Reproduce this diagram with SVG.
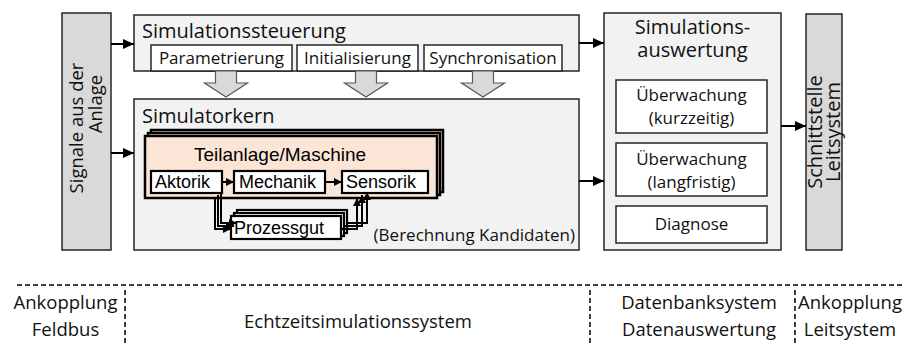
<svg xmlns="http://www.w3.org/2000/svg" width="911" height="345" viewBox="0 0 911 345">
<defs>
<marker id="ah" markerUnits="userSpaceOnUse" markerWidth="12" markerHeight="10" refX="11" refY="5" orient="auto"><path d="M0,0 L11,5 L0,10 z" fill="#000"/></marker>
<marker id="ahs" markerUnits="userSpaceOnUse" markerWidth="8" markerHeight="8" refX="8" refY="4" orient="auto"><path d="M0,0 L8,4 L0,8 z" fill="#000"/></marker>
</defs>
<style>
.panel{fill:#f2f2f2;stroke:#262626;stroke-width:1.5}
.gray{fill:#d9d9d9;stroke:#262626;stroke-width:1.5}
.sub{fill:#fff;stroke:#262626;stroke-width:1.5}
.blk{fill:#d9d9d9;stroke:#595959;stroke-width:1.2}
.peach{fill:#fbe5d6;stroke:#000;stroke-width:2.5}
.wb{fill:#fff;stroke:#000;stroke-width:2.2}
.t{font-family:"Open Sans","Liberation Sans",sans-serif;fill:#111}
.a{font-family:"Liberation Sans",Arial,sans-serif;fill:#000}
.ttl{font-size:20px}
.s17{font-size:17px}
.s18{font-size:18.5px}
.c{text-anchor:middle}
.con{fill:none;stroke:#000;stroke-width:2}
.dash{fill:none;stroke:#000;stroke-width:1.5;stroke-dasharray:5 3}
</style>

<g id="signale">
<rect class="gray" x="62" y="13" width="49" height="237"/>
<text class="t s18 c" transform="translate(86,128) rotate(-90)"><tspan x="0" y="-3">Signale aus der</tspan><tspan x="24" y="16">Anlage</tspan></text>
</g>

<g id="simulationssteuerung">
<rect class="panel" x="134" y="15" width="445" height="56"/>
<text class="t ttl" x="142" y="38">Simulationssteuerung</text>
<rect class="sub" x="151" y="45" width="141" height="26"/>
<text class="t s17 c" x="221.5" y="64">Parametrierung</text>
<rect class="sub" x="297" y="45" width="121" height="26"/>
<text class="t s17 c" x="357.5" y="64">Initialisierung</text>
<rect class="sub" x="424" y="45" width="138" height="26"/>
<text class="t s17 c" x="493" y="64">Synchronisation</text>
</g>

<g id="blockpfeile">
<polygon class="blk" points="215.5,71 236.5,71 236.5,83 247.5,83 226,97 204.5,83 215.5,83"/>
<polygon class="blk" points="355.5,71 376.5,71 376.5,83 387.5,83 366,97 344.5,83 355.5,83"/>
<polygon class="blk" points="472.5,71 493.5,71 493.5,83 504.5,83 483,97 461.5,83 472.5,83"/>
</g>

<g id="simulatorkern">
<rect class="panel" x="134" y="99" width="445" height="151"/>
<text class="t ttl" x="142" y="123">Simulatorkern</text>
<text class="t s17" x="575" y="241" text-anchor="end">(Berechnung Kandidaten)</text>
</g>

<g id="teilanlage">
<rect class="peach" x="151" y="130" width="292" height="62"/>
<rect class="peach" x="148" y="133" width="292" height="62"/>
<rect class="peach" x="145" y="136" width="292" height="62"/>
<text class="a c" x="280" y="161" font-size="19">Teilanlage/Maschine</text>
</g>

<g id="aktorik">
<rect class="wb" x="151" y="171" width="71" height="22"/>
<text class="a" x="155" y="188" font-size="18">Aktorik</text>
</g>
<g id="mechanik">
<rect class="wb" x="234" y="171" width="91" height="22"/>
<text class="a" x="239" y="188" font-size="18">Mechanik</text>
</g>
<g id="sensorik">
<rect class="wb" x="342" y="171" width="86" height="22"/>
<text class="a" x="346" y="188" font-size="18">Sensorik</text>
</g>

<g id="prozessgut">
<rect class="wb" x="237" y="210" width="110" height="23"/>
<rect class="wb" x="234" y="213" width="110" height="23"/>
<rect class="wb" x="231" y="216" width="110" height="23"/>
<text class="a" x="234" y="234" font-size="18">Prozessgut</text>
</g>

<g id="simulationsauswertung">
<rect class="panel" x="604" y="13" width="177" height="237"/>
<text class="t ttl c" x="692.5" y="34">Simulations-</text>
<text class="t ttl c" x="692.5" y="57">auswertung</text>
<rect class="sub" x="616" y="80" width="151" height="53"/>
<text class="t s17 c" x="691.5" y="101">Überwachung</text>
<text class="t s17 c" x="691.5" y="124">(kurzzeitig)</text>
<rect class="sub" x="616" y="143" width="151" height="53"/>
<text class="t s17 c" x="691.5" y="165">Überwachung</text>
<text class="t s17 c" x="691.5" y="188">(langfristig)</text>
<rect class="sub" x="616" y="206" width="151" height="37"/>
<text class="t s17 c" x="691.5" y="230">Diagnose</text>
</g>

<g id="schnittstelle">
<rect class="gray" x="806" y="14" width="36" height="236"/>
<text class="t c" font-size="20" transform="translate(824,132) rotate(-90)"><tspan x="0" y="-2">Schnittstelle</tspan><tspan x="0" y="16">Leitsystem</tspan></text>
</g>

<g id="connectors">
<line class="con" x1="111" y1="44" x2="134" y2="44" marker-end="url(#ah)"/>
<line class="con" x1="111" y1="153" x2="134" y2="153" marker-end="url(#ah)"/>
<line class="con" x1="579" y1="43" x2="604" y2="43" marker-end="url(#ah)"/>
<line class="con" x1="579" y1="181" x2="604" y2="181" marker-end="url(#ah)"/>
<line class="con" x1="781" y1="126" x2="806" y2="126" marker-end="url(#ah)"/>
<line class="con" x1="222" y1="182" x2="234" y2="182" marker-end="url(#ahs)"/>
<line class="con" x1="325" y1="182" x2="342" y2="182" marker-end="url(#ahs)"/>
<path class="con" d="M221,192 V223 H237" marker-end="url(#ahs)"/>
<path class="con" d="M218,195 V226 H234" marker-end="url(#ahs)"/>
<path class="con" d="M215,198 V229 H231" marker-end="url(#ahs)"/>
<path class="con" d="M347,223 H367 V192" marker-end="url(#ahs)"/>
<path class="con" d="M344,226 H362 V195" marker-end="url(#ahs)"/>
<path class="con" d="M341,229 H357 V198" marker-end="url(#ahs)"/>
</g>

<g id="legende">
<line class="dash" x1="17" y1="285" x2="903" y2="285"/>
<line class="dash" x1="125" y1="290" x2="125" y2="345"/>
<line class="dash" x1="590" y1="290" x2="590" y2="345"/>
<line class="dash" x1="795" y1="290" x2="795" y2="345"/>
<text class="t s18 c" x="65.5" y="309">Ankopplung</text>
<text class="t s18 c" x="65.5" y="336">Feldbus</text>
<text class="t s18 c" x="358" y="328">Echtzeitsimulationssystem</text>
<text class="t s18 c" x="699" y="309">Datenbanksystem</text>
<text class="t s18 c" x="699" y="336">Datenauswertung</text>
<text class="t s18 c" x="850" y="309">Ankopplung</text>
<text class="t s18 c" x="850" y="336">Leitsystem</text>
</g>
</svg>
